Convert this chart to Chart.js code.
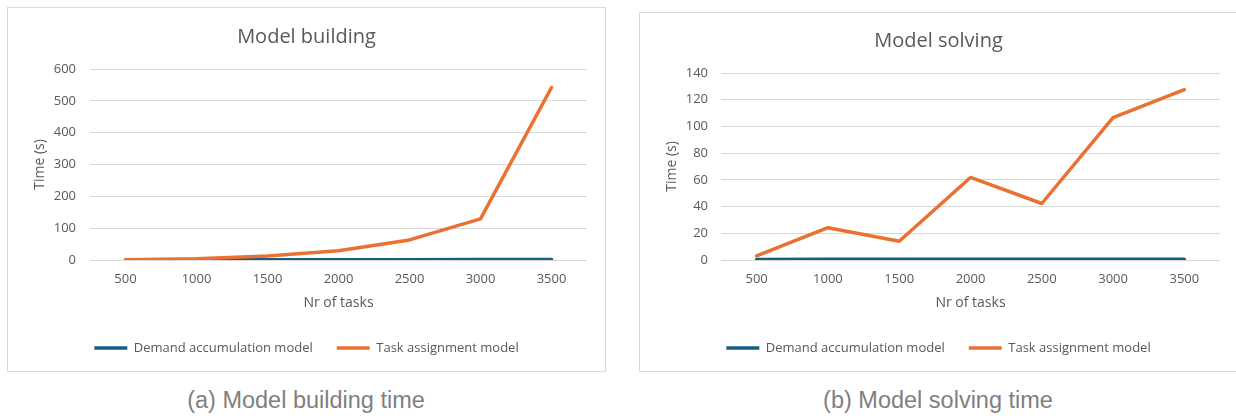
<!DOCTYPE html>
<html>
<head>
<meta charset="utf-8">
<script src="https://cdn.jsdelivr.net/npm/chart.js@4.4.1/dist/chart.umd.min.js"></script>
<style>
  html, body { margin: 0; padding: 0; background: #ffffff; }
  body { width: 1236px; height: 418px; position: relative; overflow: hidden; }
  .panel { position: absolute; border: 1px solid #d9d9d9; background: #fff; }
  .panel canvas { display: block; }
  .caption {
    position: absolute; width: 400px; text-align: center;
    font-family: "Liberation Sans", Arial, sans-serif; font-size: 23.5px;
    color: #7f7f7f; line-height: 28px;
  }
</style>
</head>
<body>
<div class="panel" id="boxA" style="left:7px; top:7px; width:597px; height:363px;">
  <canvas id="chartA" width="597" height="363"></canvas>
</div>
<div class="panel" id="boxB" style="left:639px; top:12px; width:597px; height:358px;">
  <canvas id="chartB" width="597" height="358"></canvas>
</div>
<div class="caption" style="left:106px; top:386px;">(a) Model building time</div>
<div class="caption" style="left:738px; top:386px;">(b) Model solving time</div>

<script>
// Number of tasks on the x axis
const taskCounts = ['500', '1000', '1500', '2000', '2500', '3000', '3500'];

// Model building time (s)
const buildDemandAccumulation = [0.3, 0.5, 0.7, 0.9, 1.1, 1.4, 1.7];
const buildTaskAssignment = [1, 4, 12.5, 29, 63, 129, 542];

// Model solving time (s)
const solveDemandAccumulation = [0.4, 0.5, 0.5, 0.6, 0.5, 0.6, 0.6];
const solveTaskAssignment = [3, 24.2, 14, 61.8, 42.3, 106.6, 127.5];

// Axis tick settings
const buildTicks = { max: 600, step: 100 };
const solveTicks = { max: 140, step: 20 };

const seriesNames = ['Demand accumulation model', 'Task assignment model'];
const BLUE = '#156082';
const ORANGE = '#e97132';
const TEXT = '#595959';
const GRID = '#d9d9d9';
const FONT = '"Open Sans", "Noto Sans", sans-serif';
const LEGEND_GAP = 24;

function makeChart(canvasId, title, demand, task, ticks, geo) {
  const line = (label, data, color, order) => ({
    label, data, order,
    borderColor: color, backgroundColor: color,
    borderWidth: 3.5, pointRadius: 0, pointHoverRadius: 0,
    tension: 0, fill: false,
    borderCapStyle: 'round', borderJoinStyle: 'round'
  });
  return new Chart(document.getElementById(canvasId), {
    type: 'line',
    data: {
      labels: taskCounts,
      datasets: [
        line(seriesNames[0], demand, BLUE, 1),
        line(seriesNames[1], task, ORANGE, 0)
      ]
    },
    options: {
      responsive: false,
      animation: false,
      events: [],
      layout: { padding: { left: 0, right: 0, top: 0, bottom: 6.5 } },
      plugins: {
        title: {
          display: true, text: title, color: TEXT,
          font: { family: FONT, size: 20, weight: 'normal', lineHeight: 1.2 },
          padding: { top: geo.titleTop, bottom: geo.titleBottom }
        },
        legend: {
          position: 'bottom',
          labels: {
            color: TEXT,
            font: { family: FONT, size: 13 },
            usePointStyle: true, pointStyle: 'line', pointStyleWidth: 33,
            padding: LEGEND_GAP,
            sort: (a, b) => a.datasetIndex - b.datasetIndex
          }
        },
        tooltip: { enabled: false }
      },
      scales: {
        x: {
          offset: true,
          grid: { display: false, drawTicks: false },
          border: { display: false },
          ticks: { color: TEXT, font: { family: FONT, size: 13 }, padding: 11, maxRotation: 0 },
          title: {
            display: true, text: 'Nr of tasks', color: TEXT,
            font: { family: FONT, size: 14, lineHeight: 1 },
            padding: { top: 0, bottom: 1.5 + (30 - LEGEND_GAP) }
          },
          afterFit: (s) => { s.height = 51.5 + (30 - LEGEND_GAP); }
        },
        y: {
          min: 0, max: ticks.max,
          grid: { color: GRID, lineWidth: 1, drawTicks: false },
          border: { display: false },
          ticks: { stepSize: ticks.step, color: TEXT, font: { family: FONT, size: 13 }, padding: geo.tickPad },
          title: {
            display: true, text: 'Time (s)', color: TEXT,
            font: { family: FONT, size: 14, lineHeight: 1 },
            padding: { top: 25, bottom: 0 }
          },
          afterFit: (s) => { s.width = geo.axisWidth; }
        },
        // empty right-hand margin scale so the plot ends short of the frame
        // while the title and legend stay centred on the full chart width
        margin: {
          type: 'linear', position: 'right',
          grid: { display: false, drawTicks: false },
          border: { display: false },
          ticks: { display: false },
          afterFit: (s) => { s.width = geo.padRight; }
        }
      }
    }
  });
}

makeChart('chartA', 'Model building', buildDemandAccumulation, buildTaskAssignment, buildTicks,
  { padRight: 18, titleTop: 17, titleBottom: 20, tickPad: 14, axisWidth: 82 });
makeChart('chartB', 'Model solving', solveDemandAccumulation, solveTaskAssignment, solveTicks,
  { padRight: 17, titleTop: 16, titleBottom: 20, tickPad: 13, axisWidth: 81 });
</script>
</body>
</html>
